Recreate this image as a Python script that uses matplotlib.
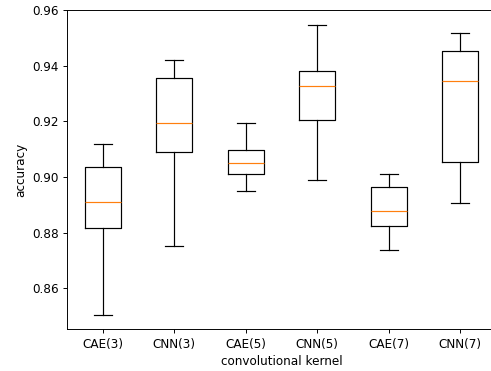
import matplotlib
matplotlib.use('Agg')
import matplotlib.pyplot as plt

labels = ['CAE(3)', 'CNN(3)', 'CAE(5)', 'CNN(5)', 'CAE(7)', 'CNN(7)']
whislo = [0.8505, 0.8753, 0.8951, 0.8989, 0.8739, 0.8908]
q1 = [0.8816, 0.9089, 0.9011, 0.9204, 0.8823, 0.9055]
med = [0.8910, 0.9194, 0.9050, 0.9326, 0.8878, 0.9345]
q3 = [0.9036, 0.9357, 0.9098, 0.9380, 0.8964, 0.9453]
whishi = [0.9120, 0.9420, 0.9194, 0.9547, 0.9011, 0.9517]

stats = []
for i in range(len(labels)):
    stats.append({'label': labels[i], 'whislo': whislo[i], 'q1': q1[i],
                  'med': med[i], 'q3': q3[i], 'whishi': whishi[i], 'fliers': []})

# reference looks like a downscaled render, so use a lower dpi
dpi = 86
fig = plt.figure(figsize=(491 / dpi, 371 / dpi), dpi=dpi)
ax = fig.add_axes([67 / 491, 1 - 329.3 / 371, (496 - 67) / 491, (329.3 - 10) / 371])
ax.bxp(stats, showfliers=False)
ax.set_ylim(0.8453, 0.96)
ax.set_xlim(0.5, 6.5)
ax.set_ylabel('accuracy')
ax.set_xlabel('convolutional kernel')
# right edge is cropped off in the reference
ax.spines['right'].set_visible(False)

fig.savefig('out.png', dpi=dpi)
